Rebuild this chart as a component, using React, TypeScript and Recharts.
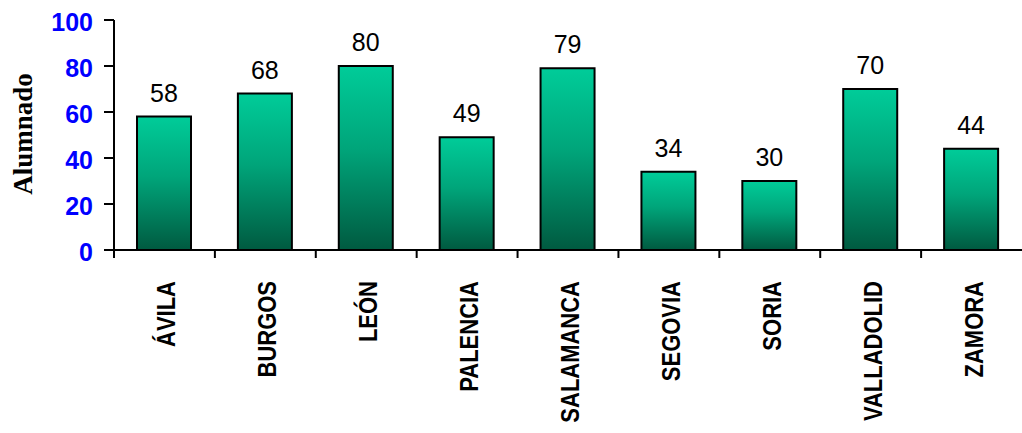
import { Bar, BarChart, LabelList, XAxis, YAxis } from "recharts"

const provincias = ["ÁVILA", "BURGOS", "LEÓN", "PALENCIA", "SALAMANCA", "SEGOVIA", "SORIA", "VALLADOLID", "ZAMORA"]
const alumnado = [58, 68, 80, 49, 79, 34, 30, 70, 44]
const yTicks = [0, 20, 40, 60, 80, 100]

const data = provincias.map((p, i) => ({ provincia: p, alumnado: alumnado[i] }))

const BAND = 908 / provincias.length

function ProvinciaTick(props: any) {
  const { x, y, payload } = props
  const left = x - BAND / 2
  const tx = x + 11
  const ty = y + 31
  return (
    <g>
      <line x1={left} y1={y} x2={left} y2={y + 8} stroke="#000" strokeWidth={2} />
      {/* texto girado y algo ensanchado, como en el original */}
      <text
        transform={`translate(${tx}, ${ty}) rotate(-90) scale(1, 1.2)`}
        textAnchor="end"
        fontFamily="Arial, 'Liberation Sans', sans-serif"
        fontWeight="bold"
        fontSize={22}
        fill="#000"
      >
        {payload.value}
      </text>
    </g>
  )
}

function ValorTick(props: any) {
  const { x, y, payload } = props
  return (
    <text
      x={x}
      y={y}
      dy={11}
      textAnchor="end"
      fontFamily="Arial, 'Liberation Sans', sans-serif"
      fontWeight="bold"
      fontSize={25}
      fill="#0000ff"
    >
      {payload.value}
    </text>
  )
}

function EjeLabel(props: any) {
  const { viewBox } = props
  const cx = viewBox.x + 23
  const cy = viewBox.y + viewBox.height / 2 - 1
  return (
    <text
      x={cx}
      y={cy}
      transform={`rotate(-90, ${cx}, ${cy})`}
      textAnchor="middle"
      dominantBaseline="central"
      fontFamily="'Times New Roman', 'Liberation Serif', serif"
      fontWeight="bold"
      fontSize={27}
      fill="#000"
    >
      Alumnado
    </text>
  )
}

export default function App() {
  return (
    <div style={{ width: 1022, height: 433 }}>
      <style>{`body { margin: 0; }`}</style>
      <BarChart width={1022} height={433} data={data} margin={{ top: 20, right: 0, left: 0, bottom: 0 }}>
        <defs>
          <linearGradient id="barGrad" x1="0" y1="0" x2="0" y2="1">
            <stop offset="0%" stopColor="#00cc99" />
            <stop offset="45%" stopColor="#00a57a" />
            <stop offset="100%" stopColor="#005a40" />
          </linearGradient>
        </defs>
        <XAxis
          dataKey="provincia"
          height={183}
          interval={0}
          tickLine={false}
          tickSize={0}
          tickMargin={0}
          axisLine={{ stroke: "#000", strokeWidth: 2 }}
          tick={<ProvinciaTick />}
        />
        <YAxis
          width={114}
          domain={[0, 100]}
          ticks={yTicks}
          interval={0}
          tickSize={10}
          tickMargin={11}
          tickLine={{ stroke: "#000", strokeWidth: 2 }}
          axisLine={{ stroke: "#000", strokeWidth: 2 }}
          tick={<ValorTick />}
          label={<EjeLabel />}
        />
        <Bar dataKey="alumnado" fill="url(#barGrad)" stroke="#000" strokeWidth={2} barSize={54} isAnimationActive={false}>
          <LabelList
            dataKey="alumnado"
            position="top"
            offset={15}
            fontFamily="Arial, 'Liberation Sans', sans-serif"
            fontSize={25}
            fill="#000"
          />
        </Bar>
      </BarChart>
    </div>
  )
}
